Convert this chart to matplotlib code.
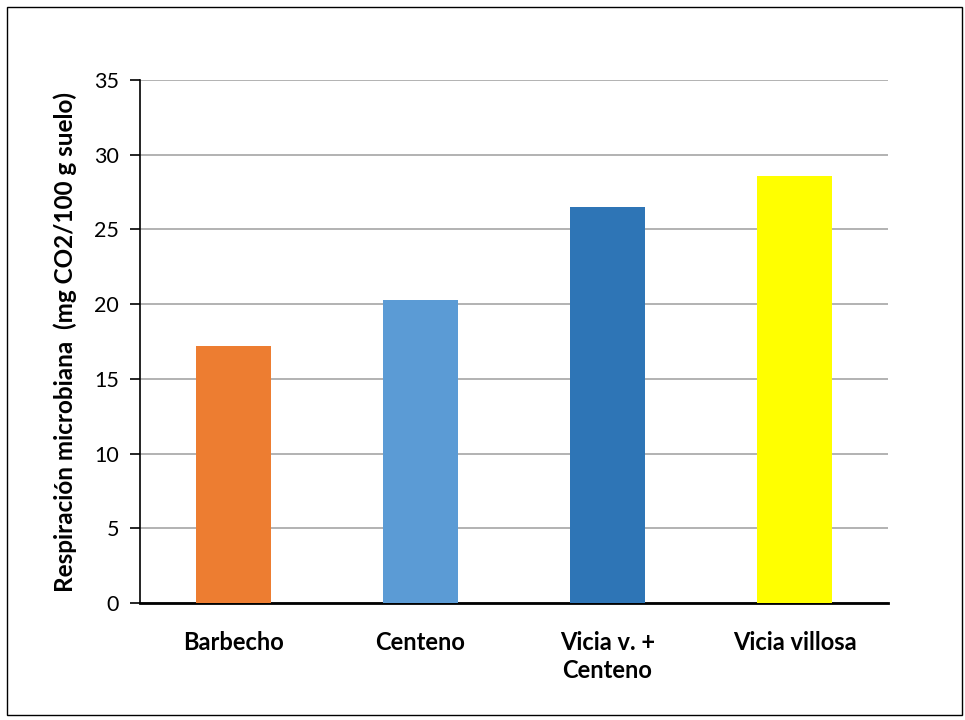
import matplotlib.pyplot as plt
from matplotlib.patches import Rectangle

categories = ["Barbecho", "Centeno", "Vicia v. +\nCenteno", "Vicia villosa"]
values = [17.2, 20.3, 26.5, 28.6]
colors = ["#ED7D31", "#5B9BD5", "#2E75B6", "#FFFF00"]

plt.rcParams['font.family'] = ['Lato', 'DejaVu Sans']

fig = plt.figure(figsize=(9.65, 7.2), dpi=100)
ax = fig.add_axes([140/965, 1 - 603/720, 748/965, 523/720])

x = range(len(categories))
ax.bar(x, values, width=0.4, color=colors, zorder=3)

ax.set_xlim(-0.5, len(categories) - 0.5)
ax.set_ylim(0, 35)
ax.set_yticks(range(0, 36, 5))
ax.set_xticks(list(x))
ax.set_xticklabels(categories, fontsize=17, fontweight='bold', linespacing=1.25)
ax.tick_params(axis='x', length=0, pad=20)
ax.tick_params(axis='y', labelsize=15.5, length=7, width=1.2, direction='out', pad=8)

ax.grid(axis='y', color='#A6A6A6', linewidth=1.2, zorder=0)
ax.spines['top'].set_visible(False)
ax.spines['right'].set_visible(False)
ax.spines['left'].set_linewidth(1.2)
ax.spines['bottom'].set_linewidth(2)

ax.set_ylabel("Respiración microbiana  (mg CO2/100 g suelo)", fontsize=17.5,
              fontweight='bold', labelpad=12)

fig.patches.append(Rectangle((7/965, 5/720), 955/965, 708/720, transform=fig.transFigure,
                             fill=False, edgecolor='black', linewidth=1))

fig.savefig("out.png", dpi=100)
